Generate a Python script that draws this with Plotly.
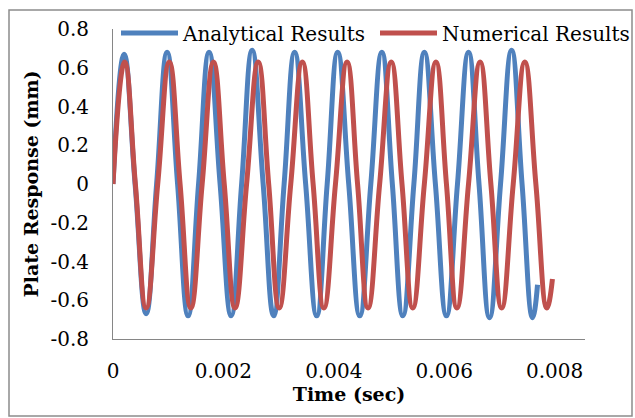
import plotly.graph_objects as go

# ---- data ----
analytical_time = [0, 0.00020, 0.00040, 0.00060, 0.00079, 0.00098, 0.00117, 0.00136,
                   0.00155, 0.00174, 0.00194, 0.00214, 0.00233, 0.00252, 0.00272, 0.00291,
                   0.00310, 0.00329, 0.00349, 0.00369, 0.00388, 0.00407, 0.00427, 0.00447,
                   0.00467, 0.00487, 0.00506, 0.00525, 0.00545, 0.00564, 0.00584, 0.00604,
                   0.00624, 0.00644, 0.00663, 0.00682, 0.00702, 0.00722, 0.00741, 0.00760,
                   0.00769]
analytical_resp = [0, 0.67, 0, -0.67, 0, 0.68, 0, -0.68,
                   0, 0.68, 0, -0.68, 0, 0.69, 0, -0.68,
                   0, 0.68, 0, -0.68, 0, 0.68, 0, -0.68,
                   0, 0.68, 0, -0.68, 0, 0.68, 0, -0.68,
                   0, 0.68, 0, -0.69, 0, 0.69, 0, -0.69,
                   -0.52]

numerical_time = [0, 0.00021, 0.000405, 0.00060, 0.00081, 0.00102, 0.001215, 0.00141,
                  0.001615, 0.00182, 0.002015, 0.00221, 0.00242, 0.00263, 0.00282, 0.00301,
                  0.00322, 0.00343, 0.003625, 0.00382, 0.00403, 0.00424, 0.00443, 0.00462,
                  0.00483, 0.00504, 0.005235, 0.00543, 0.00564, 0.00585, 0.00604, 0.00623,
                  0.00644, 0.00665, 0.006845, 0.00704, 0.00725, 0.00746, 0.00766, 0.00786,
                  0.00796]
numerical_resp = [0, 0.63, 0, -0.64, 0, 0.63, 0, -0.64,
                  0, 0.63, 0, -0.64, 0, 0.63, 0, -0.64,
                  0, 0.63, 0, -0.64, 0, 0.63, 0, -0.64,
                  0, 0.63, 0, -0.64, 0, 0.63, 0, -0.64,
                  0, 0.63, 0, -0.64, 0, 0.63, 0, -0.64,
                  -0.49]

x_tick_vals = [0, 0.002, 0.004, 0.006, 0.008]
x_tick_text = ["0", "0.002", "0.004", "0.006", "0.008"]
y_tick_vals = [0.8, 0.6, 0.4, 0.2, 0, -0.2, -0.4, -0.6, -0.8]
y_tick_text = ["0.8", "0.6", "0.4", "0.2", "0", "-0.2", "-0.4", "-0.6", "-0.8"]

FONT = "DejaVu Serif"
BLUE = "#4F81BD"
RED = "#C0504D"

fig = go.Figure()
fig.add_trace(go.Scatter(x=analytical_time, y=analytical_resp, mode="lines",
                         name="Analytical Results", legend="legend",
                         line=dict(color=BLUE, width=5, shape="spline", smoothing=1.3)))
fig.add_trace(go.Scatter(x=numerical_time, y=numerical_resp, mode="lines",
                         name="Numerical Results", legend="legend2",
                         line=dict(color=RED, width=5, shape="spline", smoothing=1.3)))

L, R, T, B = 113, 50, 29, 79
W, H = 635, 418
pw, ph = W - L - R, H - T - B

def px_x(p):
    return (p - L) / pw

def px_y(p):
    return (H - B - p) / ph

legend_common = dict(orientation="h", yanchor="middle", xanchor="left",
                     bgcolor="rgba(0,0,0,0)", font=dict(size=20, family=FONT),
                     itemwidth=57, borderwidth=0)

fig.update_layout(
    width=W, height=H,
    margin=dict(l=L, r=R, t=T, b=B, pad=0, autoexpand=False),
    paper_bgcolor="white", plot_bgcolor="white",
    font=dict(family=FONT, size=20, color="black"),
    showlegend=True,
    legend=dict(x=px_x(116), y=px_y(33), **legend_common),
    legend2=dict(x=px_x(375), y=px_y(33), **legend_common),
    xaxis=dict(range=[0, 0.00855], tickmode="array", tickvals=x_tick_vals,
               ticktext=x_tick_text, showgrid=False, zeroline=False,
               showline=True, linecolor="#868686", linewidth=1,
               ticks="outside", ticklen=14, tickcolor="rgba(0,0,0,0)",
               title=dict(text="<b>Time (sec)</b>", standoff=4, font=dict(size=19))),
    yaxis=dict(range=[-0.8, 0.8], tickmode="array", tickvals=y_tick_vals,
               ticktext=y_tick_text, showgrid=False, zeroline=False,
               showline=True, linecolor="#868686", linewidth=1,
               ticks="outside", ticklen=19, tickcolor="rgba(0,0,0,0)",
               title=dict(text="<b>Plate Response (mm)</b>", standoff=6, font=dict(size=19))),
    shapes=[dict(type="rect", xref="paper", yref="paper",
                 x0=px_x(9), x1=px_x(632), y0=px_y(416), y1=px_y(10),
                 line=dict(color="#8c8c8c", width=1.5), layer="below")],
)

fig.write_html("out.html")
